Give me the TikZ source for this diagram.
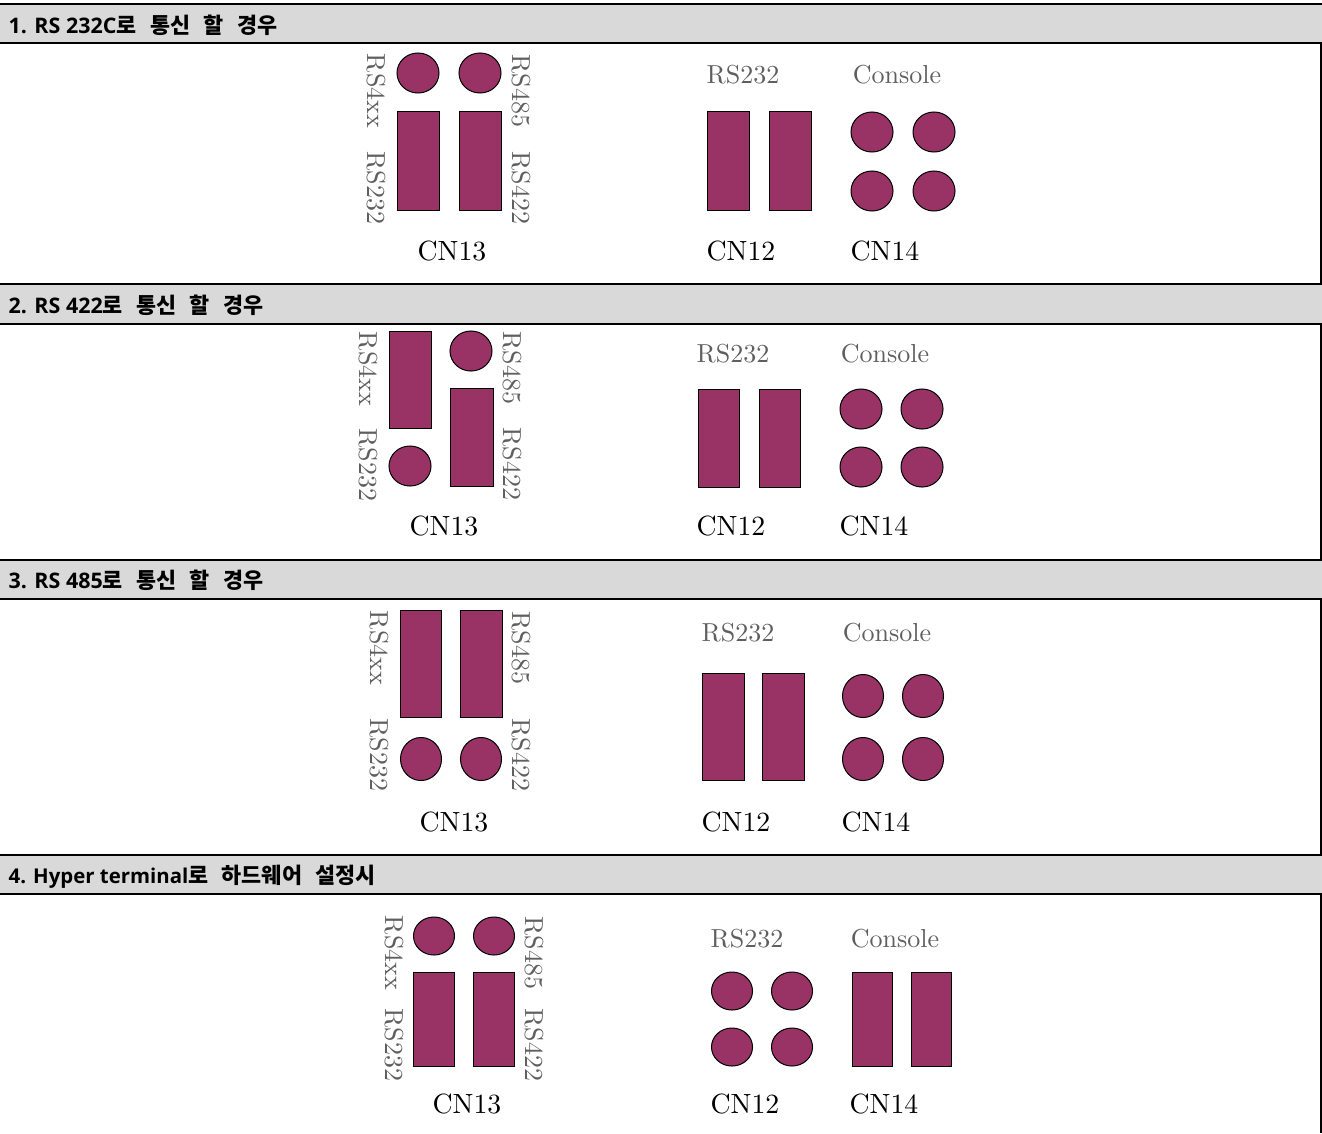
\documentclass[tikz,border=0pt]{standalone}
\usepackage{fontspec}
\usepackage{tikz}
\usetikzlibrary{shapes.geometric}
\setmainfont{lmroman10-regular.otf}
\newfontfamily\hdfont{Noto Sans CJK KR}
\newfontfamily\hdlatin{Open Sans}
\definecolor{PinPlum}{RGB}{153,51,102}
\definecolor{BandGray}{RGB}{217,217,217}
\definecolor{LabGray}{RGB}{95,95,95}
\newcommand{\hdko}[1]{{\hdfont\fontsize{6.2pt}{7pt}\selectfont\spaceskip=0.62em #1}}
\tikzset{
  band/.style={rectangle,draw=black,fill=BandGray,line width=0.02cm,minimum width=13.26cm,minimum height=0.39cm,anchor=west,inner sep=0pt},
  headtext/.style={anchor=base west,inner sep=0pt,font=\hdlatin\bfseries\fontsize{6.1pt}{7pt}\selectfont},
  cn/.style={inner sep=0pt,font=\fontsize{7.9pt}{9pt}\selectfont},
  lab/.style={inner sep=0pt,text=LabGray,font=\fontsize{7.4pt}{9pt}\selectfont},
  sidelab/.style={lab,rotate=-90,yshift=0.02cm},
  pin/.style={ellipse,draw=black,fill=PinPlum,line width=0.01cm,inner sep=0pt},
  jump/.style={rectangle,draw=black,fill=PinPlum,line width=0.01cm,inner sep=0pt},
}
\begin{document}
\begin{tikzpicture}[x=0.01cm,y=-0.01cm]
\useasboundingbox (0,0) rectangle (1322,1133);
\draw[line width=0.02cm] (1321,4) -- (1321,1133);
% header bands
\node[band] (band1) at (-5,23.5) {};
\node[band] (band2) at (-5,304) {};
\node[band] (band3) at (-5,579) {};
\node[band] (band4) at (-5,874) {};
\node[headtext] (head1) at (8,33) {1. RS 232C\hdko{로 통신 할 경우}};
\node[headtext] (head2) at (8,313) {2. RS 422\hdko{로 통신 할 경우}};
\node[headtext] (head3) at (8,588) {3. RS 485\hdko{로 통신 할 경우}};
\node[headtext,font=\hdlatin\bfseries\fontsize{5.8pt}{7pt}\selectfont] (head4) at (8,883) {4. Hyper terminal\hdko{로 하드웨어 설정시}};
% case 1
\node[pin,minimum width=0.42cm,minimum height=0.40cm] (a1) at (418,73) {};
\node[pin,minimum width=0.42cm,minimum height=0.40cm] (a2) at (480,73) {};
\node[jump,minimum width=0.41cm,minimum height=0.98cm] (a3) at (418.5,161) {};
\node[jump,minimum width=0.41cm,minimum height=0.98cm] (a4) at (480.5,161) {};
\node[jump,minimum width=0.42cm,minimum height=0.98cm] (a5) at (728,161) {};
\node[jump,minimum width=0.42cm,minimum height=0.98cm] (a6) at (790,161) {};
\node[pin,minimum width=0.42cm,minimum height=0.40cm] (a7) at (872,132) {};
\node[pin,minimum width=0.42cm,minimum height=0.40cm] (a8) at (934,132) {};
\node[pin,minimum width=0.42cm,minimum height=0.40cm] (a9) at (872,191) {};
\node[pin,minimum width=0.42cm,minimum height=0.40cm] (a10) at (934,191) {};
\node[sidelab] (al1) at (374,91) {RS4xx};
\node[sidelab] (al2) at (374,188) {RS232};
\node[sidelab] (al3) at (519,91) {RS485};
\node[sidelab] (al4) at (519,188) {RS422};
\node[lab] (al5) at (743,75) {RS232};
\node[lab] (al6) at (897,75) {Console};
\node[cn] (al7) at (452,251) {CN13};
\node[cn] (al8) at (741,251) {CN12};
\node[cn] (al9) at (885,251) {CN14};
% case 2
\node[jump,minimum width=0.41cm,minimum height=0.96cm] (b1) at (410.5,380) {};
\node[pin,minimum width=0.42cm,minimum height=0.40cm] (b2) at (471,351) {};
\node[pin,minimum width=0.42cm,minimum height=0.40cm] (b3) at (410,466) {};
\node[jump,minimum width=0.42cm,minimum height=0.97cm] (b4) at (472,437.5) {};
\node[jump,minimum width=0.41cm,minimum height=0.97cm] (b5) at (718.5,438.5) {};
\node[jump,minimum width=0.41cm,minimum height=0.97cm] (b6) at (779.5,438.5) {};
\node[pin,minimum width=0.42cm,minimum height=0.40cm] (b7) at (861,409) {};
\node[pin,minimum width=0.42cm,minimum height=0.40cm] (b8) at (922,409) {};
\node[pin,minimum width=0.42cm,minimum height=0.40cm] (b9) at (861,467) {};
\node[pin,minimum width=0.42cm,minimum height=0.40cm] (b10) at (922,467) {};
\node[sidelab] (bl1) at (366,369) {RS4xx};
\node[sidelab] (bl2) at (366,465) {RS232};
\node[sidelab] (bl3) at (510,368) {RS485};
\node[sidelab] (bl4) at (510,464) {RS422};
\node[lab] (bl5) at (733,354) {RS232};
\node[lab] (bl6) at (885,354) {Console};
\node[cn] (bl7) at (444,526) {CN13};
\node[cn] (bl8) at (731,526) {CN12};
\node[cn] (bl9) at (874,526) {CN14};
% case 3
\node[jump,minimum width=0.40cm,minimum height=1.06cm] (c1) at (421,664) {};
\node[jump,minimum width=0.41cm,minimum height=1.06cm] (c2) at (481.5,664) {};
\node[pin,minimum width=0.41cm,minimum height=0.43cm] (c3) at (421,759) {};
\node[pin,minimum width=0.41cm,minimum height=0.43cm] (c4) at (481,759) {};
\node[jump,minimum width=0.42cm,minimum height=1.06cm] (c5) at (723,727) {};
\node[jump,minimum width=0.42cm,minimum height=1.06cm] (c6) at (783,727) {};
\node[pin,minimum width=0.41cm,minimum height=0.43cm] (c7) at (863,696) {};
\node[pin,minimum width=0.41cm,minimum height=0.43cm] (c8) at (923,696) {};
\node[pin,minimum width=0.41cm,minimum height=0.43cm] (c9) at (863,759) {};
\node[pin,minimum width=0.41cm,minimum height=0.43cm] (c10) at (923,759) {};
\node[sidelab] (cl1) at (377,648) {RS4xx};
\node[sidelab] (cl2) at (377,755) {RS232};
\node[sidelab] (cl3) at (519,648) {RS485};
\node[sidelab] (cl4) at (519,755) {RS422};
\node[lab] (cl5) at (738,633) {RS232};
\node[lab] (cl6) at (887,633) {Console};
\node[cn] (cl7) at (454,822) {CN13};
\node[cn] (cl8) at (736,822) {CN12};
\node[cn] (cl9) at (876,822) {CN14};
% case 4
\node[pin,minimum width=0.41cm,minimum height=0.38cm] (d1) at (434,936) {};
\node[pin,minimum width=0.41cm,minimum height=0.38cm] (d2) at (494,936) {};
\node[jump,minimum width=0.40cm,minimum height=0.93cm] (d3) at (434,1019.5) {};
\node[jump,minimum width=0.40cm,minimum height=0.93cm] (d4) at (494,1019.5) {};
\node[pin,minimum width=0.41cm,minimum height=0.38cm] (d5) at (732,991) {};
\node[pin,minimum width=0.41cm,minimum height=0.38cm] (d6) at (792,991) {};
\node[pin,minimum width=0.41cm,minimum height=0.38cm] (d7) at (732,1047) {};
\node[pin,minimum width=0.41cm,minimum height=0.38cm] (d8) at (792,1047) {};
\node[jump,minimum width=0.40cm,minimum height=0.93cm] (d9) at (872,1019.5) {};
\node[jump,minimum width=0.40cm,minimum height=0.93cm] (d10) at (931,1019.5) {};
\node[sidelab] (dl1) at (392,953) {RS4xx};
\node[sidelab] (dl2) at (392,1045) {RS232};
\node[sidelab] (dl3) at (532,953) {RS485};
\node[sidelab] (dl4) at (532,1045) {RS422};
\node[lab] (dl5) at (747,939) {RS232};
\node[lab] (dl6) at (895,939) {Console};
\node[cn] (dl7) at (467,1104) {CN13};
\node[cn] (dl8) at (745,1104) {CN12};
\node[cn] (dl9) at (884,1104) {CN14};
\end{tikzpicture}
\end{document}
